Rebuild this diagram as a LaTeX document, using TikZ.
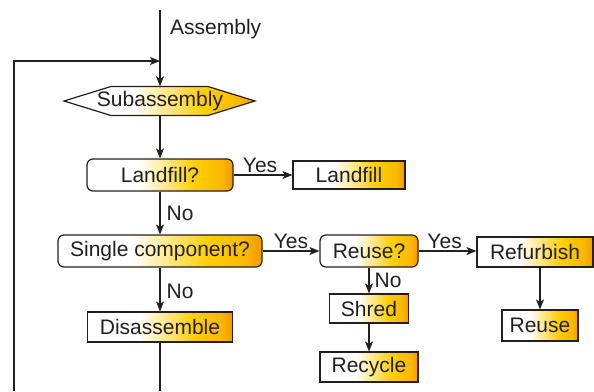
\documentclass[tikz,border=0pt]{standalone}
\usepackage{fontspec}
\setmainfont{Liberation Sans}
\usetikzlibrary{arrows.meta}
\definecolor{inkgray}{RGB}{35,31,32}
\definecolor{boxyellow}{RGB}{255,206,0}
\definecolor{boxorange}{RGB}{242,152,0}
\pgfdeclarehorizontalshading{boxfill}{100bp}{color(0bp)=(white); color(25bp)=(white); color(43bp)=(white); color(62bp)=(boxyellow); color(71bp)=(boxyellow!60!boxorange); color(75bp)=(boxorange); color(100bp)=(boxorange)}

\begin{document}
\begin{tikzpicture}[x=1pt,y=-1pt,
    font=\fontsize{21}{25}\selectfont, text=inkgray,
    proc/.style={draw=inkgray, line width=1.2pt, shading=boxfill, inner sep=0pt, minimum height=30pt},
    ask/.style={proc, rounded corners=6pt, minimum height=32pt},
    flow/.style={draw=inkgray, line width=1.2pt, -{Stealth[length=10pt,width=8pt,inset=2.5pt]}},
    lbl/.style={inner sep=2pt}]
    \useasboundingbox (0,0) rectangle (594,391);

    % Hexagon behind the Subassembly text
    \path[draw=inkgray, line width=1.2pt, shading=boxfill] (64,101) -- (111,86.5) -- (208,86.5) -- (255,101) -- (208,115.5) -- (111,115.5) -- cycle;
    \node[inner sep=0pt, minimum height=29pt] (sub) at (160,101) {Subassembly};

    % Boxes
    \node[ask, minimum width=146pt] (ask1) at (160,175) {Landfill?};
    \node[proc, minimum width=112pt, minimum height=28pt] (land) at (349,175) {Landfill};
    \node[ask, minimum width=204pt] (ask2) at (160,251) {Single component?};
    \node[proc, minimum width=145pt] (dis) at (160,327) {Disassemble};
    \node[ask, minimum width=98pt] (ask3) at (369,251) {Reuse?};
    \node[proc, minimum width=116pt] (refurb) at (535,252) {Refurbish};
    \node[proc, minimum width=76pt, minimum height=31pt] (reuse) at (540,325.5) {Reuse};
    \node[proc, minimum width=79pt, minimum height=29pt] (shred) at (369,308.5) {Shred};
    \node[proc, minimum width=98pt] (recycle) at (369,367) {Recycle};

    % Free ends
    \coordinate (top) at (160,10);
    \coordinate (loopin) at (160,61);
    \coordinate (loopcorner) at (14,61);
    \coordinate (loopstart) at (14,391);
    \coordinate (disend) at (160,391);

    \node[lbl, anchor=west] (asm) at (168,29.5) {Assembly};

    % Connectors
    \draw[flow] (top) -- (sub);
    \draw[flow] (loopstart) -- (loopcorner) -- (loopin);
    \draw[flow] (sub) -- (ask1);
    \draw[flow] (ask1) -- node[lbl, above, pos=.45] {Yes} (land);
    \draw[flow] (ask1) -- node[lbl, right, xshift=4pt] {No} (ask2);
    \draw[flow] (ask2) -- node[lbl, above, pos=.5] {Yes} (ask3);
    \draw[flow] (ask2) -- node[lbl, right, xshift=4pt, yshift=-2pt] {No} (dis);
    \draw[line width=1.2pt, draw=inkgray] (dis) -- (disend);
    \draw[flow] (ask3) -- node[lbl, above, pos=.45] {Yes} (refurb.west |- ask3);
    \draw[flow] (ask3) -- node[lbl, right, xshift=3pt] {No} (shred);
    \draw[flow] (shred) -- (recycle);
    \draw[flow] (reuse.north |- refurb.south) -- (reuse);
\end{tikzpicture}
\end{document}
